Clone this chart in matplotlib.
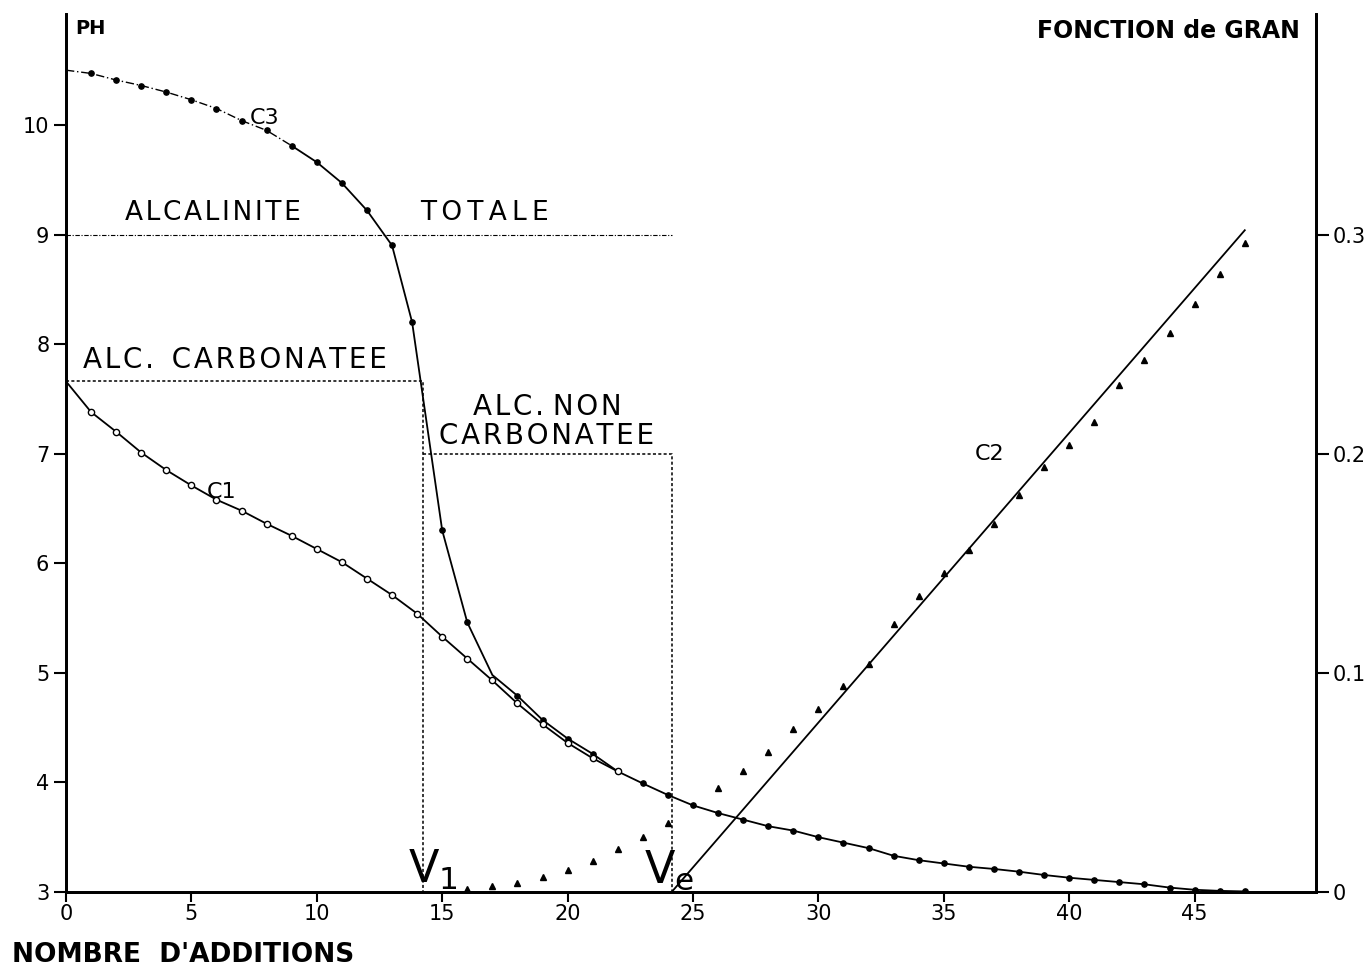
import numpy as np
import matplotlib
matplotlib.use("Agg")
from matplotlib import pyplot as plt

# pH curves (x = nombre d'additions)
c3_x = [0, 1, 2, 3, 4, 5, 6, 7, 8, 9, 10, 11, 12, 13, 13.8, 15, 16, 17, 18, 19, 20, 21, 22, 23, 24,
        25, 26, 27, 28, 29, 30, 31, 32, 33, 34, 35, 36, 37, 38, 39, 40, 41, 42, 43, 44, 45, 46, 47]
c3_ph = [10.50, 10.47, 10.41, 10.36, 10.30, 10.23, 10.15, 10.04, 9.95, 9.81, 9.66, 9.47, 9.22, 8.90,
         8.20, 6.30, 5.46, 4.98, 4.79, 4.57, 4.40, 4.26, 4.10, 3.99, 3.885,
         3.79, 3.72, 3.66, 3.60, 3.56, 3.50, 3.45, 3.40, 3.33, 3.29, 3.26, 3.23, 3.21, 3.185, 3.155,
         3.13, 3.11, 3.09, 3.07, 3.04, 3.02, 3.01, 3.005]
c3_marked = [1, 2, 3, 4, 5, 6, 7, 8, 9, 10, 11, 12, 13, 13.8, 15, 16, 18, 19, 20, 21, 22, 23, 24,
             25, 26, 27, 28, 29, 30, 31, 32, 33, 34, 35, 36, 37, 38, 39, 40, 41, 42, 43, 44, 45, 46, 47]

c1_x = [0, 1, 2, 3, 4, 5, 6, 7, 8, 9, 10, 11, 12, 13, 14, 15, 16, 17, 18, 19, 20, 21, 22]
c1_ph = [7.66, 7.38, 7.20, 7.01, 6.85, 6.71, 6.58, 6.48, 6.36, 6.25, 6.13, 6.01, 5.86, 5.71, 5.54,
         5.33, 5.13, 4.93, 4.72, 4.53, 4.36, 4.22, 4.10]

# Gran function (right axis)
c2_x = [16, 17, 18, 19, 20, 21, 22, 23, 24, 26, 27, 28, 29, 30, 31, 32, 33, 34, 35, 36, 37,
        38, 39, 40, 41, 42, 43, 44, 45, 46, 47]
c2_gran = [0.0012, 0.0027, 0.0042, 0.0070, 0.0100, 0.0141, 0.0195, 0.0250, 0.0313, 0.0476, 0.0554,
           0.0637, 0.0742, 0.0834, 0.0940, 0.1039, 0.1223, 0.1351, 0.1454, 0.1561, 0.1679,
           0.1812, 0.1941, 0.2040, 0.2146, 0.2314, 0.2428, 0.2552, 0.2683, 0.2820, 0.2963]
c2_fit_x = [24.15, 47.0]
c2_fit_y = [0.0, 0.302]

v1 = 14.25
ve = 24.15
ph_total = 9.0
ph_carb = 7.66
ph_noncarb = 7.0

left_ticks = [3, 4, 5, 6, 7, 8, 9, 10]
right_ticks = [0, 0.1, 0.2, 0.3]
right_labels = ["0", "0.1", "0.2", "0.3"]
x_ticks = [0, 5, 10, 15, 20, 25, 30, 35, 40, 45]

plt.rcParams['font.family'] = ['DejaVu Sans']

HAIR = "\u200a"
THIN = "\u2009"


def spaced(s, sep=HAIR):
    # widen the lettering like the original stencil text
    return sep.join(s)


fig = plt.figure(figsize=(13.72, 9.69), dpi=100)
ax = fig.add_axes([0.0481, 0.0795, 0.9111, 0.9061])
ax.set_xlim(0, 49.84)
ax.set_ylim(3, 11.013)

ax2 = ax.twinx()
ax2.set_ylim(0, 0.4007)

# C3 curve: dash-dot at the top, solid afterwards
n_dd = 9
ax.plot(c3_x[:n_dd + 1], c3_ph[:n_dd + 1], color="black", lw=1.0, ls=(0, (6, 2, 1, 2)))
ax.plot(c3_x[n_dd:], c3_ph[n_dd:], color="black", lw=1.3)
mx = [x for x in c3_x if x in c3_marked]
my = [p for x, p in zip(c3_x, c3_ph) if x in c3_marked]
ax.plot(mx, my, ls="none", marker="o", ms=3.8, color="black")

# C1 curve with hollow markers
ax.plot(c1_x, c1_ph, color="black", lw=1.3)
ax.plot(c1_x[1:], c1_ph[1:], ls="none", marker="o", ms=4.5, mfc="white", mec="black", mew=1.0)

# reference lines
ax.plot([0, ve], [ph_total, ph_total], color="black", lw=0.8, ls=(0, (4, 1.5, 1, 1.5)))
ax.plot([0, v1, v1], [ph_carb, ph_carb, 3], color="black", lw=1.1, ls=(0, (2, 1.5)))
ax.plot([v1, ve, ve], [ph_noncarb, ph_noncarb, 3], color="black", lw=1.1, ls=(0, (2, 1.5)))

# Gran function
ax2.plot(c2_x, c2_gran, ls="none", marker="^", ms=4.2, color="black")
ax2.plot(c2_fit_x, c2_fit_y, color="black", lw=1.3)

# axes styling
for a in (ax, ax2):
    a.spines['top'].set_visible(False)
    for s in ('left', 'right', 'bottom'):
        a.spines[s].set_linewidth(2.0)
ax.set_xticks(x_ticks)
ax.set_yticks(left_ticks)
ax2.set_yticks(right_ticks)
ax2.set_yticklabels(right_labels)
ax.tick_params(axis='x', direction='out', length=7, width=1.5, labelsize=15, pad=2)
ax.tick_params(axis='y', direction='out', length=9, width=1.5, labelsize=15, pad=3)
ax2.tick_params(axis='y', direction='out', length=9, width=1.5, labelsize=15, pad=3)

# annotations
ax.text(0.36, 10.88, "PH", fontsize=14, fontweight="bold", va="center", ha="left")
ax.text(49.2, 10.86, "FONCTION de GRAN", fontsize=17, fontweight="bold", va="center", ha="right")
ax.text(7.93, 10.06, "C3", fontsize=16, va="center", ha="center")
ax.text(5.86, 9.20, spaced("ALCALINITE"), fontsize=19, va="center", ha="center")
ax.text(16.67, 9.20, spaced("TOTALE", THIN), fontsize=19, va="center", ha="center")
ax.text(6.74, 7.855, spaced("ALC.") + "  " + spaced("CARBONATEE"), fontsize=20,
        va="center", ha="center")
ax.text(19.18, 7.43, spaced("ALC.") + " " + spaced("NON"), fontsize=20, va="center", ha="center")
ax.text(19.18, 7.16, spaced("CARBONATEE"), fontsize=20, va="center", ha="center")
ax.text(6.22, 6.65, "C1", fontsize=16, va="center", ha="center")
ax.text(36.84, 7.0, "C2", fontsize=16, va="center", ha="center")
ax.text(14.65, 3.0, r"$\mathregular{V_1}$", fontsize=32, va="bottom", ha="center")
ax.text(24.05, 3.0, r"$\mathregular{V_e}$", fontsize=32, va="bottom", ha="center")
fig.text(12 / 1372, 1 - 955 / 969, "NOMBRE  D'ADDITIONS", fontsize=19, fontweight="bold",
         va="center", ha="left")

fig.savefig("out.png", dpi=100)
